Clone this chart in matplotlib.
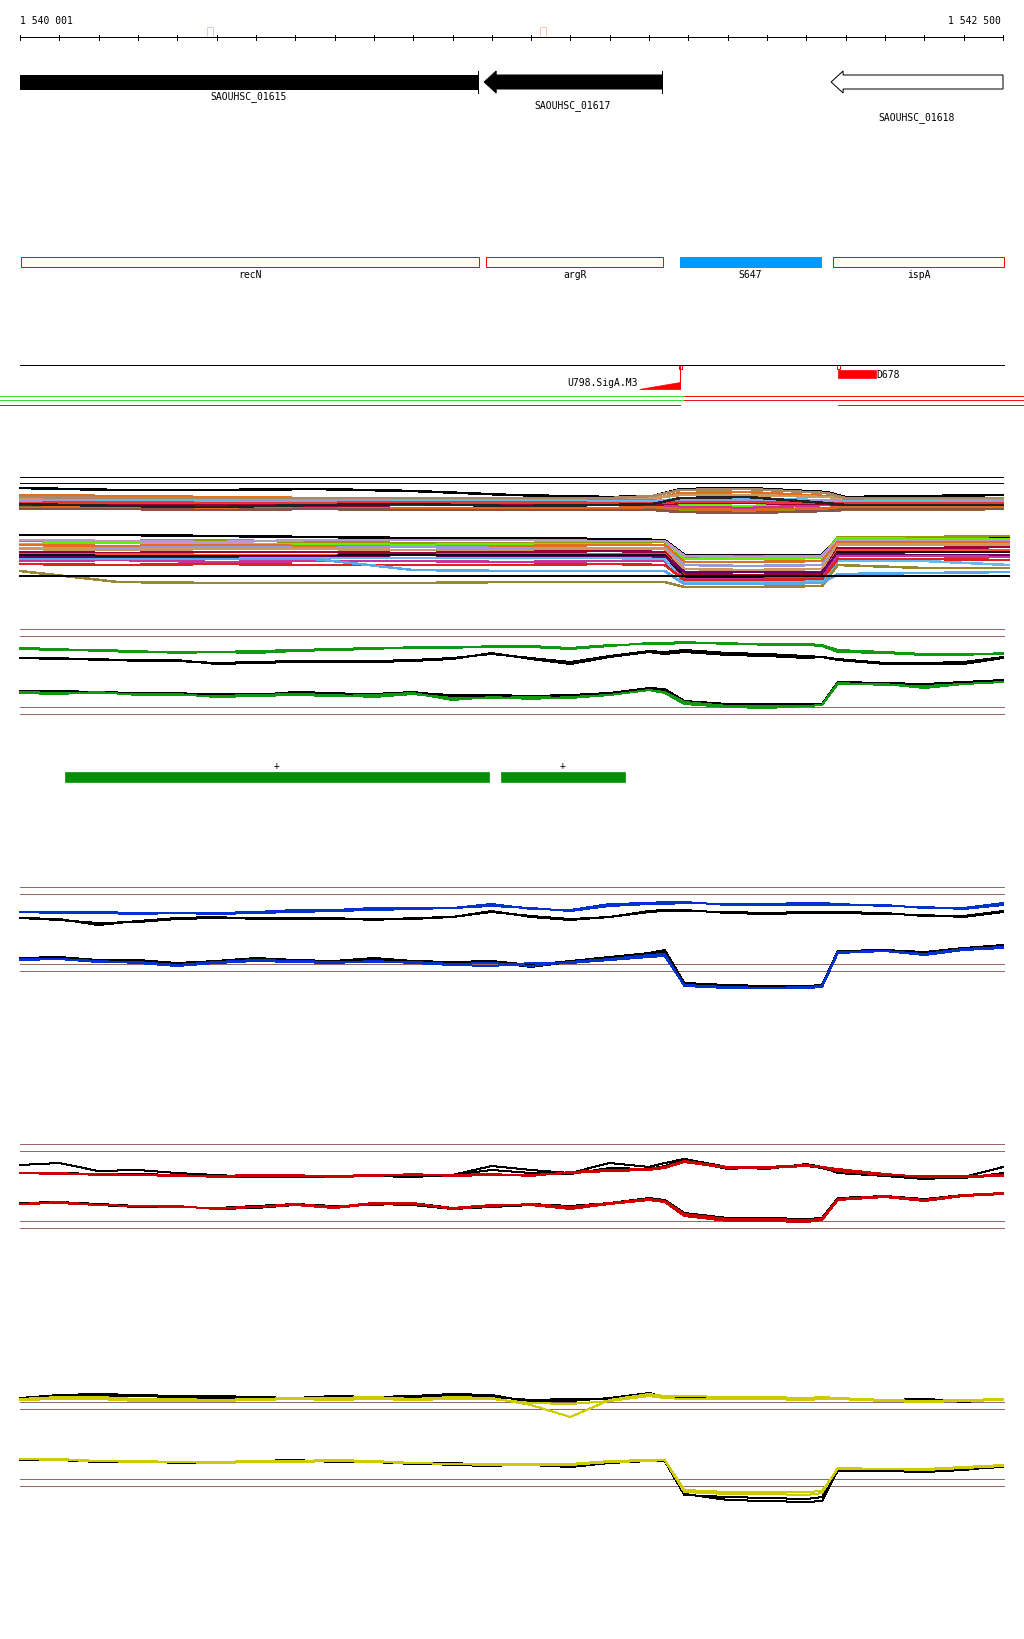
import numpy as np
import matplotlib.pyplot as plt
from matplotlib.patches import Rectangle, Polygon

# Genome window
W, H = 1024, 1640
START, END = 1540001, 1542500
BP_PX = (END - START) / 983
X0 = START - 20 * BP_PX
X1 = X0 + W * BP_PX

# Genes (all minus strand)
gene_names = ["SAOUHSC_01615", "SAOUHSC_01617", "SAOUHSC_01618"]
gene_start = [1539900, 1541181, 1542063]
gene_end = [1541165, 1541633, 1542600]
gene_fill = ["black", "black", "white"]
gene_label_y = [97, 106, 118]

# Annotated features
feat_names = ["recN", "argR", "S647", "ispA"]
feat_start = [1540004, 1541186, 1541679, 1542068]
feat_end = [1541168, 1541636, 1542037, 1542502]
feat_filled = [False, False, True, False]

# TSS marks
tss_names = ["U798.SigA.M3", "D678"]
tss_pos = [1541679, 1542080]
tss_ext = [1541575, 1542177]

# small ruler marks
ruler_marks = [1540484, 1541331]

# transcribed blocks
block_start = [1540115, 1541224]
block_end = [1541193, 1541539]

# position grid for the profile tracks
G = [1540001, 1540100, 1540200, 1540300, 1540400, 1540500, 1540600, 1540700,
     1540800, 1540900, 1541000, 1541100, 1541200, 1541300, 1541400, 1541500,
     1541600, 1541640, 1541690, 1541800, 1541900, 1542000, 1542040, 1542080,
     1542200, 1542300, 1542400, 1542500]

# track with many conditions
P4 = [1540001, 1540250, 1540500, 1540750, 1541000, 1541250, 1541500, 1541610,
      1541680, 1541850, 1542050, 1542100, 1542300, 1542500]
P4L = [1540001, 1540250, 1540500, 1540750, 1541000, 1541250, 1541500, 1541640,
       1541690, 1541850, 1542040, 1542080, 1542300, 1542515]
ref4 = [122, 116]
up4 = {
    "#000000": [111, 109, 109, 110, 108, 104, 102, 103, 110, 111, 107, 102, 103, 104],
    "#e07020": [104, 103, 102, 101, 101, 100, 100, 100, 106, 107, 103, 100, 101, 101],
    "#66bbee": [99, 99, 99, 98, 98, 99, 98, 98, 100, 100, 99, 98, 98, 97],
    "#66ee00": [97, 96, 97, 97, 96, 96, 97, 96, 94, 93, 95, 97, 97, 96],
    "#cc3399": [95, 96, 95, 95, 95, 95, 95, 95, 92, 91, 94, 95, 95, 95],
    "#999900": [93, 92, 92, 90, 89, 90, 91, 92, 88, 87, 90, 92, 92, 91],
    "#996633": [92, 91, 91, 92, 91, 90, 90, 90, 87, 86, 88, 89, 89, 90],
    "#cc9966": [100, 100, 101, 100, 100, 100, 101, 101, 104, 104, 102, 101, 100, 100],
    "#9999dd": [98, 97, 97, 98, 97, 97, 97, 97, 98, 99, 98, 97, 97, 98],
    "#990033": [94, 94, 94, 93, 94, 94, 94, 94, 96, 96, 95, 94, 94, 94],
    "#ee3333": [96, 97, 96, 96, 97, 97, 96, 96, 97, 97, 96, 96, 96, 96],
    "#dd6622": [91, 92, 91, 90, 91, 91, 91, 92, 90, 89, 91, 92, 92, 93],
    "#222222": [95, 93, 92, 94, 95, 93, 94, 95, 101, 102, 96, 94, 94, 94],
    "#aa8866": [102, 101, 101, 101, 101, 101, 101, 103, 109, 110, 106, 101, 101, 101],
    "#885544": [90, 90, 89, 90, 89, 89, 89, 89, 87, 86, 88, 90, 90, 90],
}
lo4 = {
    "#000000": [64, 64, 63, 62, 61, 61, 60, 59, 44, 44, 44, 60, 61, 62],
    "#999900": [58, 58, 59, 57, 56, 56, 57, 57, 42, 43, 42, 62, 62, 63],
    "#66ee00": [55, 56, 55, 55, 54, 55, 55, 54, 40, 40, 41, 61, 60, 60],
    "#bb99cc": [59, 58, 57, 59, 59, 59, 58, 58, 43, 42, 43, 59, 58, 59],
    "#e07020": [54, 53, 54, 53, 52, 53, 54, 54, 37, 37, 38, 57, 57, 57],
    "#9999dd": [51, 51, 52, 51, 52, 51, 51, 51, 34, 33, 34, 54, 54, 53],
    "#cc9966": [50, 49, 50, 50, 49, 49, 50, 50, 30, 29, 30, 55, 55, 55],
    "#990033": [47, 46, 47, 47, 46, 47, 48, 47, 25, 24, 25, 51, 51, 52],
    "#ee5522": [45, 45, 44, 44, 44, 45, 45, 45, 23, 23, 23, 49, 49, 49],
    "#111111": [44, 43, 43, 43, 44, 44, 44, 44, 22, 22, 23, 47, 47, 47],
    "#660066": [42, 41, 41, 42, 41, 42, 42, 42, 27, 27, 27, 45, 44, 44],
    "#cc3399": [38, 39, 37, 38, 38, 37, 38, 38, 20, 20, 21, 43, 43, 42],
    "#66bbee": [40, 40, 40, 41, 41, 41, 41, 40, 17, 17, 18, 38, 38, 34],
    "#dd2222": [35, 34, 35, 34, 34, 34, 35, 34, 19, 19, 20, 40, 40, 39],
    "#998833": [28, 17, 16, 16, 16, 17, 17, 17, 12, 12, 13, 34, 31, 31],
    "#55aaee": [40, 40, 40, 40, 29, 28, 28, 28, 15, 15, 16, 25, 26, 27],
    "#000001": [23, 23, 23, 23, 23, 23, 23, 23, 23, 23, 23, 23, 23, 23],
}

# green track (heights above band bottom)
ref5 = [90, 83, 12, 5]
green_up = [[71, 70, 68, 67, 67, 67, 68, 69, 70, 71, 71, 72, 72, 73, 71, 74, 75, 76, 77, 75, 75, 74, 73, 67, 66, 64, 64, 66],
            [70, 69, 69, 68, 66, 67, 66, 68, 69, 70, 72, 71, 73, 72, 70, 73, 76, 75, 76, 76, 74, 75, 74, 69, 67, 65, 65, 65]]
black5_up = [[61, 61, 59, 59, 59, 55, 56, 57, 57, 57, 58, 60, 66, 60, 55, 62, 67, 65, 67, 64, 63, 61, 62, 59, 55, 55, 55, 61],
             [61, 60, 60, 58, 58, 56, 57, 58, 58, 58, 59, 61, 65, 61, 57, 63, 68, 67, 69, 66, 65, 63, 62, 60, 56, 56, 57, 62]]
green_lo = [[26, 25, 27, 24, 25, 22, 23, 24, 23, 24, 26, 19, 22, 20, 22, 24, 29, 26, 15, 12, 11, 13, 14, 35, 35, 31, 35, 37],
            [27, 26, 26, 25, 24, 23, 24, 25, 24, 22, 25, 21, 21, 22, 21, 24, 29, 27, 17, 13, 13, 13, 14, 36, 34, 33, 35, 37]]
black5_lo = [[27, 28, 27, 26, 26, 24, 25, 26, 25, 25, 27, 23, 23, 23, 23, 25, 30, 28, 17, 14, 14, 15, 15, 36, 36, 34, 36, 38],
             [28, 27, 26, 26, 25, 25, 24, 27, 26, 24, 26, 24, 24, 23, 24, 26, 31, 30, 18, 15, 15, 14, 15, 37, 36, 35, 37, 39]]

# blue track
ref6 = [112, 105, 35, 28]
blue_up = [[87, 87, 87, 86, 86, 86, 87, 89, 89, 91, 91, 91, 95, 90, 89, 95, 96, 97, 97, 94, 94, 94, 94, 94, 94, 91, 91, 96],
           [87, 86, 86, 85, 86, 85, 86, 87, 88, 89, 90, 91, 93, 91, 88, 93, 95, 95, 96, 95, 95, 96, 96, 95, 93, 92, 90, 94]]
black6_up = [[81, 80, 74, 78, 81, 82, 80, 81, 81, 79, 81, 82, 88, 82, 79, 82, 88, 89, 88, 87, 86, 87, 86, 87, 86, 83, 83, 88],
             [81, 79, 76, 77, 80, 81, 81, 80, 80, 80, 80, 82, 87, 83, 80, 82, 87, 88, 89, 86, 85, 86, 87, 86, 85, 84, 82, 87]]
blue_lo = [[40, 40, 38, 36, 33, 36, 38, 37, 36, 38, 36, 34, 33, 36, 36, 39, 42, 43, 14, 12, 11, 11, 12, 46, 48, 44, 49, 51],
           [39, 40, 37, 37, 34, 37, 39, 38, 37, 37, 37, 35, 36, 33, 37, 40, 44, 45, 13, 11, 11, 12, 13, 47, 48, 45, 50, 52]]
black6_lo = [[40, 41, 37, 38, 34, 37, 40, 38, 37, 40, 37, 35, 37, 32, 37, 41, 45, 47, 15, 13, 12, 12, 13, 47, 49, 46, 50, 53],
             [41, 42, 39, 39, 36, 38, 41, 39, 38, 41, 38, 37, 38, 34, 38, 42, 46, 49, 16, 14, 13, 13, 14, 48, 49, 47, 51, 54]]

# red track
ref7 = [105, 98, 28, 21]
red_up = [[76, 75, 75, 74, 73, 73, 74, 73, 73, 74, 74, 74, 75, 73, 77, 79, 80, 82, 88, 82, 82, 84, 82, 78, 74, 73, 72, 73],
          [76, 76, 74, 74, 74, 72, 73, 74, 72, 73, 75, 73, 74, 74, 76, 78, 79, 81, 87, 81, 81, 83, 82, 80, 75, 72, 73, 74]]
black7_up = [[84, 86, 78, 79, 76, 74, 72, 72, 72, 73, 72, 74, 83, 79, 76, 86, 82, 86, 90, 82, 80, 85, 82, 76, 73, 70, 72, 82],
             [76, 76, 75, 75, 74, 73, 72, 73, 73, 73, 73, 74, 79, 76, 75, 81, 80, 83, 89, 80, 82, 83, 81, 77, 74, 72, 71, 76]]
red_lo = [[45, 47, 44, 43, 43, 40, 42, 45, 42, 46, 46, 40, 43, 45, 42, 46, 50, 48, 35, 30, 30, 29, 30, 50, 53, 49, 54, 56],
          [45, 46, 44, 43, 42, 41, 42, 44, 41, 45, 45, 41, 44, 44, 40, 45, 49, 47, 33, 28, 28, 27, 29, 49, 52, 48, 53, 55]]
black7_lo = [[46, 47, 45, 43, 42, 41, 43, 45, 43, 44, 46, 41, 43, 45, 43, 46, 51, 49, 36, 31, 31, 30, 31, 51, 53, 50, 54, 56],
             [45, 46, 44, 42, 43, 40, 41, 44, 42, 45, 44, 40, 42, 44, 42, 45, 50, 48, 34, 29, 30, 29, 31, 50, 52, 48, 53, 55]]

# yellow track
ref8 = [107, 100, 30, 23]
yel_up = [[110, 112, 112, 110, 110, 109, 110, 111, 111, 112, 110, 112, 111, 104, 92, 109, 115, 113, 113, 112, 112, 111, 112, 111, 109, 108, 109, 110],
          [109, 110, 110, 108, 108, 108, 109, 110, 109, 110, 109, 110, 110, 106, 105, 108, 113, 111, 110, 110, 110, 109, 110, 110, 108, 107, 108, 109]]
black8_up = [[111, 114, 115, 114, 113, 113, 112, 111, 113, 112, 113, 115, 114, 107, 108, 111, 116, 112, 112, 112, 111, 110, 111, 110, 108, 110, 107, 110],
             [110, 112, 113, 113, 112, 111, 111, 110, 111, 111, 112, 113, 112, 109, 110, 110, 115, 112, 111, 111, 110, 110, 110, 110, 109, 110, 108, 109]]
yel_lo = [[50, 49, 48, 48, 47, 47, 48, 48, 49, 48, 46, 45, 45, 45, 45, 48, 49, 49, 19, 17, 17, 17, 18, 40, 40, 40, 42, 44],
          [50, 50, 48, 47, 47, 46, 47, 47, 48, 47, 46, 45, 44, 44, 44, 47, 48, 49, 17, 15, 15, 14, 16, 41, 40, 39, 41, 43]]
black8_lo = [[50, 50, 48, 48, 47, 47, 47, 48, 48, 47, 45, 46, 44, 44, 42, 46, 49, 49, 15, 9, 8, 7, 8, 39, 38, 37, 39, 43],
             [49, 49, 47, 48, 46, 46, 48, 49, 47, 48, 46, 44, 43, 45, 44, 46, 48, 48, 14, 12, 11, 10, 12, 38, 39, 37, 40, 42]]

REF_COL = "#996666"
FONT = dict(family="DejaVu Sans Mono", fontsize=7, color="black")
LW = 0.72  # one pixel

fig = plt.figure(figsize=(W / 100, H / 100), dpi=100)
ax = fig.add_axes([0, 0, 1, 1])
ax.set_xlim(X0, X1)
ax.set_ylim(H, 0)
ax.axis("off")

px = BP_PX  # bp per pixel

# ruler
ax.plot([START, END], [38, 38], color="black", lw=LW, antialiased=False)
for t in np.linspace(START, END, 26):
    ax.plot([t, t], [35.5, 40.5], color="black", lw=LW, antialiased=False)
for m in ruler_marks:
    ax.add_patch(Rectangle((m - 3 * px, 28), 6 * px, 10, fill=False,
                           ec="#f5c8b8", lw=LW))
ax.text(START, 20.5, "1 540 001", ha="left", va="center", **FONT)
ax.text(END - 2 * px, 20.5, "1 542 500", ha="right", va="center", **FONT)

# genes
for name, s, e, fc, ly in zip(gene_names, gene_start, gene_end, gene_fill, gene_label_y):
    l, r = max(s, START), min(e, END)
    head = 12 * px
    if s >= START:
        pts = [(l, 83), (l + head, 72), (l + head, 76), (r, 76), (r, 90),
               (l + head, 90), (l + head, 94)]
    else:
        pts = [(l, 76), (r, 76), (r, 90), (l, 90)]
    ax.add_patch(Polygon(pts, closed=True, fc=fc, ec="black", lw=LW))
    if e <= END:
        ax.plot([r, r], [72, 94], color="black", lw=LW, antialiased=False)
    ax.text((l + r) / 2, ly, name, ha="center", va="center", **FONT)

# features
for name, s, e, f in zip(feat_names, feat_start, feat_end, feat_filled):
    if f:
        ax.add_patch(Rectangle((s, 258), e - s, 10, fc="#0099ff", ec="#0099ff", lw=LW))
    else:
        ax.add_patch(Rectangle((s, 258), e - s, 10, fill=False, ec="red", lw=LW))
    ax.text((s + e) / 2, 275.5, name, ha="center", va="center", **FONT)

# TSS track
ax.plot([START, feat_end[-1]], [366, 366], color="black", lw=LW, antialiased=False)
ax.add_patch(Polygon([(tss_ext[0], 390), (tss_pos[0], 390), (tss_pos[0], 383)],
                     closed=True, fc="red", ec="red", lw=0.5))
ax.plot([tss_pos[0], tss_pos[0]], [367, 390], color="red", lw=LW, antialiased=False)
ax.add_patch(Rectangle((tss_pos[1], 371), tss_ext[1] - tss_pos[1], 8, fc="red", ec="red", lw=0.5))
for p in tss_pos:
    ax.add_patch(Rectangle((p - 1 * px, 366), 3 * px, 3.5, fc="white", ec="red", lw=LW))
ax.text(tss_ext[0] - 1 * px, 383, tss_names[0], ha="right", va="center", **FONT)
ax.text(tss_ext[1], 375.5, tss_names[1], ha="left", va="center", **FONT)

# strand coverage lines
for y in [397, 401]:
    ax.plot([X0, tss_pos[0] + 4 * px], [y, y], color="#33dd33", lw=LW, antialiased=False)
    ax.plot([tss_pos[0] + 4 * px, X1], [y, y], color="#ee1111", lw=LW, antialiased=False)
ax.plot([X0, tss_pos[0]], [406, 406], color="#ee1111", lw=LW, antialiased=False)
ax.plot([tss_pos[1], X1], [406, 406], color="#ee1111", lw=LW, antialiased=False)

# transcribed blocks
for s, e in zip(block_start, block_end):
    ax.add_patch(Rectangle((s, 773), e - s, 10, fc="#008f00", ec="#008f00", lw=0.5))
    ax.text((s + e) / 2, 766, "+", ha="center", va="center", **FONT)


def band(top, bottom):
    b = fig.add_axes([0, 1 - bottom / H, 1, (bottom - top) / H])
    b.set_xlim(X0, X1)
    b.set_ylim(0, bottom - top)
    b.axis("off")
    b.patch.set_alpha(0)
    return b


# multi-condition track
b4 = band(470, 600)
for r in ref4:
    b4.plot([START, END], [r, r], color="black", lw=LW, antialiased=False)
for c, v in up4.items():
    b4.plot(P4, v, color=c, lw=1.1, antialiased=False)
for c, v in lo4.items():
    b4.plot(P4L, v, color=c, lw=1.1, antialiased=False)


def profile_track(top, bottom, refs, col, up, blk_up, lo, blk_lo):
    b = band(top, bottom)
    for r in refs:
        b.plot([START, feat_end[-1]], [r, r], color=REF_COL, lw=LW, antialiased=False)
    for v in blk_up + blk_lo:
        b.plot(G, v, color="black", lw=LW, antialiased=False)
    for v in up + lo:
        b.plot(G, v, color=col, lw=LW, antialiased=False)
    return b


profile_track(620, 720, ref5, "#119911", green_up, black5_up, green_lo, black5_lo)
profile_track(880, 1000, ref6, "#0033cc", blue_up, black6_up, blue_lo, black6_lo)
profile_track(1140, 1250, ref7, "#cc0000", red_up, black7_up, red_lo, black7_lo)
profile_track(1380, 1510, ref8, "#cccc00", yel_up, black8_up, yel_lo, black8_lo)

fig.savefig("out.png", dpi=100, facecolor="white")
